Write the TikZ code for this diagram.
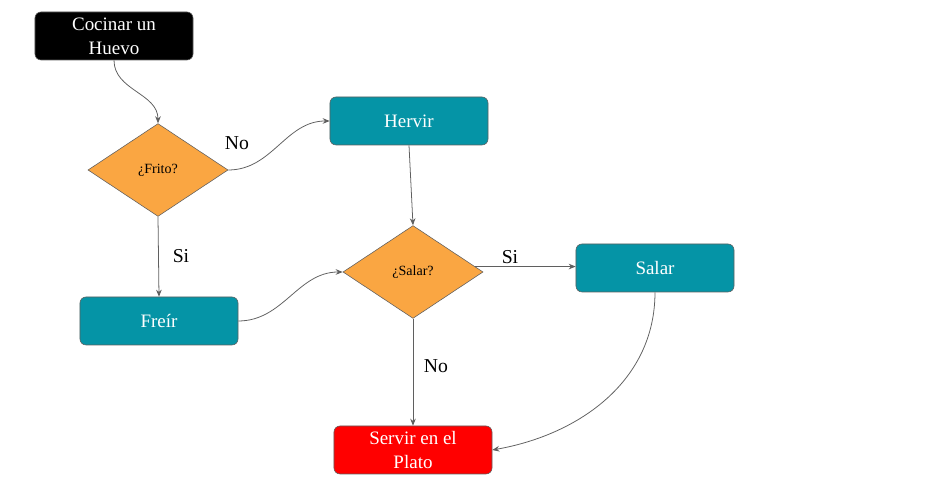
\documentclass[tikz,border=0pt]{standalone}
\usepackage{fontspec}
\setmainfont{Liberation Serif}
\usetikzlibrary{shapes.geometric}
\usetikzlibrary{arrows.meta}
\definecolor{tealbox}{RGB}{5,148,166}
\definecolor{orangebox}{RGB}{250,166,66}
\definecolor{redbox}{RGB}{255,0,0}
\definecolor{edgegray}{RGB}{95,95,95}
\tikzset{
  stepbox/.style={draw=edgegray, rounded corners=0.15cm, minimum width=3.95cm,
    minimum height=1.2cm, text=white, align=center, font=\fontsize{13.5}{17}\selectfont},
  startbox/.style={stepbox, fill=black},
  actionbox/.style={stepbox, fill=tealbox},
  endbox/.style={stepbox, fill=redbox},
  question/.style={diamond, draw=edgegray, fill=orangebox, inner sep=0pt,
    minimum width=3.5cm, minimum height=2.32cm, font=\fontsize{10}{12}\selectfont},
  answer/.style={font=\fontsize{14}{16}\selectfont},
  flow/.style={draw=edgegray, line width=0.55pt, -{Stealth[length=5pt,width=4pt]}}
}

\begin{document}
\begin{tikzpicture}[x=0.025cm,y=0.025cm]
  \useasboundingbox (0,0) rectangle (930,491);
  %
  \node[startbox] (cocinar) at (114,455) {Cocinar un\\Huevo};
  \node[question] (frito) at (158,321) {¿Frito?};
  \node[actionbox] (hervir) at (409,370) {Hervir};
  \node[actionbox] (freir) at (159,170) {Freír};
  \node[question] (salarq) at (413,219) {¿Salar?};
  \node[actionbox] (salar) at (655,223) {Salar};
  \node[endbox] (servir) at (413,41) {Servir en el\\Plato};

  % answers
  \node[answer] (nofrito) at (237,348) {No};
  \node[answer] (sifrito) at (181,235) {Si};
  \node[answer] (sisalar) at (510,234) {Si};
  \node[answer] (nosalar) at (436,125) {No};

  % connectors
  \draw[flow] (cocinar.south) to[out=-90,in=90] (frito.north);
  \draw[flow] (frito.east) to[out=0,in=180] (hervir.west);
  \draw[flow] (frito.south) -- (freir.north);
  \draw[flow] (hervir.south) -- (salarq.north);
  \draw[flow] (freir.east) to[out=0,in=180] (salarq.west);
  \draw[flow] (salarq.5) -- (salar.west |- salarq.5);
  \draw[flow] (salarq.south) -- (servir.north);
  \draw[flow] (salar.south) to[out=-90,in=10] (servir.east);

\end{tikzpicture}
\end{document}
